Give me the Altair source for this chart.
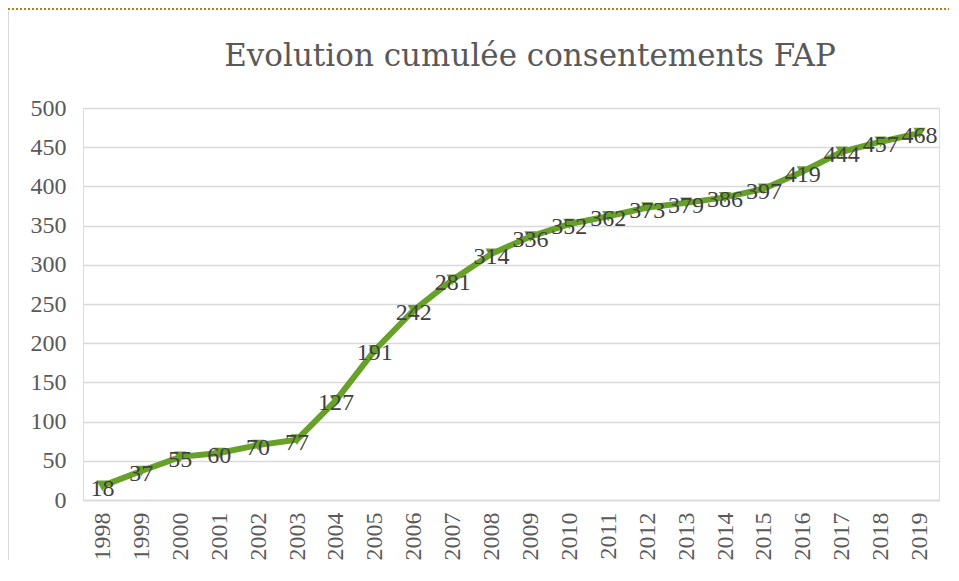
import altair as alt
import pandas as pd

years = [str(y) for y in range(1998, 2020)]
values = [18, 37, 55, 60, 70, 77, 127, 191, 242, 281, 314, 336, 352, 362, 373, 379, 386, 397, 419, 444, 457, 468]
title_text = ["Evolution cumulée consentements FAP"]

df = pd.DataFrame({"year": years, "value": values})
tdf = pd.DataFrame({"t": title_text})

FONT = "Liberation Serif"
GREEN = "#68A12A"

x = alt.X("year:O", title=None, sort=years,
          scale=alt.Scale(paddingInner=0, paddingOuter=0.5),
          axis=alt.Axis(labelAngle=-90, labelFont=FONT, labelFontSize=24, labelColor="#595959",
                        labelPadding=12, ticks=False, domainColor="#d9d9d9", domainWidth=1.5,
                        labelBaseline="middle", labelAlign="right"))
y = alt.Y("value:Q", title=None,
          scale=alt.Scale(domain=[0, 500], nice=False),
          axis=alt.Axis(values=list(range(0, 501, 50)), labelFont=FONT, labelFontSize=24,
                        labelColor="#595959", labelPadding=17, ticks=False, domain=False,
                        gridColor="#d9d9d9", gridWidth=1.5))

base = alt.Chart(df).encode(x=x, y=y)

line = base.mark_line(color=GREEN, strokeWidth=6)
points = base.mark_point(shape="triangle-down", filled=True, color=GREEN, size=150, opacity=1)
labels = base.mark_text(font=FONT, fontSize=24, color="#404040", baseline="middle", dy=3).encode(text="value:Q")

border = alt.Chart(tdf).mark_rule(color="#C07A10", strokeDash=[2, 2], strokeWidth=2).encode(
    x=alt.value(-75), x2=alt.value(880), y=alt.value(-99))
left_border = alt.Chart(tdf).mark_rule(color="#d9d9d9", strokeWidth=2).encode(
    x=alt.value(-75), y=alt.value(-97), y2=alt.value(480))
title = alt.Chart(tdf).mark_text(font="DejaVu Serif", fontSize=31, color="#595959", align="center",
                                 baseline="alphabetic").encode(
    text="t:N", x=alt.value(447), y=alt.value(-42))

chart = alt.layer(line, points, labels, border, left_border, title).properties(
    width=856, height=392,
    padding={"left": 75, "top": 100, "right": 10, "bottom": 60},
    autosize=alt.AutoSizeParams(type="none"),
).configure_view(stroke=None).configure(background="white")

chart.save("out.html", embed_options={"renderer": "svg", "actions": False})
